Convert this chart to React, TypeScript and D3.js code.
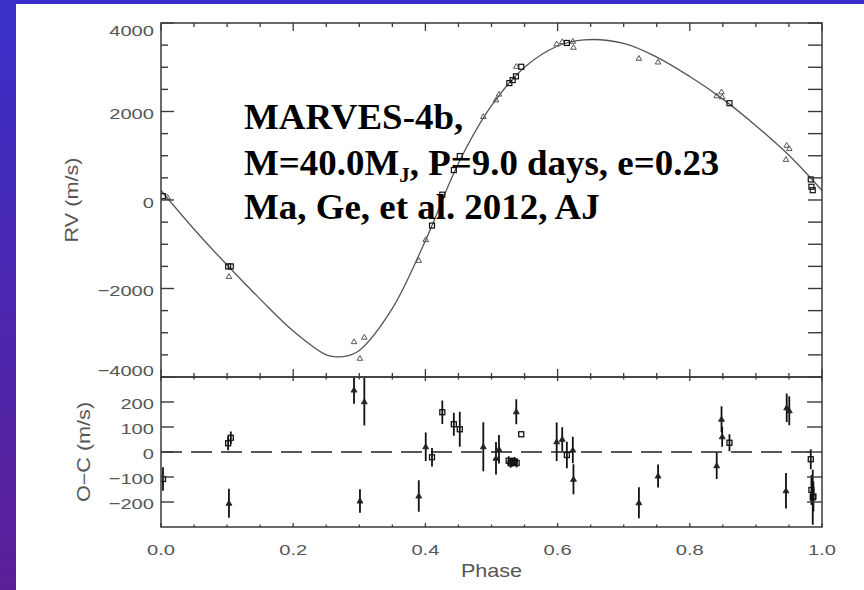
import React from "react";
import * as d3 from "d3";

// ---- model curve ----
const modelPhase = [0, 0.05, 0.1, 0.15, 0.2, 0.25, 0.266, 0.28, 0.3, 0.35, 0.4, 0.45, 0.5, 0.55, 0.6, 0.64, 0.7, 0.75, 0.8, 0.85, 0.9, 0.95, 1.0];
const modelRV = [215, -660, -1470, -2240, -2960, -3500, -3545, -3530, -3400, -2450, -920, 830, 2130, 3000, 3480, 3620, 3540, 3230, 2790, 2280, 1680, 1010, 215];

// ---- RV observations, triangles ----
const triPhase = [0.01, 0.1028, 0.292, 0.301, 0.3076, 0.39, 0.4005, 0.4876, 0.5068, 0.5113, 0.5375, 0.5986, 0.607, 0.623, 0.624, 0.723, 0.752, 0.8407, 0.848, 0.849, 0.9466, 0.9505, 0.9455];
const triRV = [60, -1728, -3202, -3578, -3102, -1365, -896, 1886, 2263, 2392, 3020, 3526, 3578, 3587, 3451, 3202, 3118, 2354, 2444, 2331, 1236, 1161, 918];

// ---- RV observations, squares ----
const sqPhase = [0.003, 0.1016, 0.1056, 0.41, 0.4256, 0.443, 0.452, 0.527, 0.532, 0.537, 0.545, 0.614, 0.86, 0.983, 0.984, 0.986];
const sqRV = [86, -1501, -1501, -578, 120, 676, 993, 2642, 2710, 2794, 3011, 3549, 2188, 465, 299, 222];

// ---- residuals, triangles ----
const resTriPhase = [0.1028, 0.292, 0.301, 0.3076, 0.39, 0.4005, 0.4876, 0.5068, 0.5113, 0.5375, 0.5986, 0.607, 0.623, 0.624, 0.723, 0.752, 0.8407, 0.848, 0.849, 0.9455, 0.9466, 0.9505];
const resTriVal = [-205, 248, -196, 201, -176, 21, 21, -25, 11, 161, 41, 51, 8, -109, -203, -96, -55, 131, 61, -155, 177, 165];
const resTriErr = [58, 55, 47, 95, 63, 57, 98, 65, 57, 50, 77, 48, 53, 60, 62, 46, 53, 52, 40, 71, 57, 58];

// ---- residuals, squares ----
const resSqPhase = [0.003, 0.1016, 0.1056, 0.41, 0.4256, 0.443, 0.452, 0.526, 0.529, 0.532, 0.535, 0.538, 0.545, 0.614, 0.86, 0.983, 0.984, 0.986, 0.987];
const resSqVal = [-108, 35, 57, -21, 159, 111, 91, -35, -45, -40, -38, -44, 71, -12, 37, -29, -152, -181, -178];
const resSqErr = [47, 28, 25, 37, 47, 46, 70, 18, 18, 18, 18, 18, 0, 53, 34, 40, 60, 110, 60];

// ---- ticks ----
const rvTicks = [-4000, -2000, 0, 2000, 4000];
const rvMinor = d3.range(-4000, 4001, 500);
const ocTicks = [-200, -100, 0, 100, 200];
const phaseTicks = [0, 0.2, 0.4, 0.6, 0.8, 1.0];
const phaseMinor = d3.range(0, 1.0001, 0.05);

const fmtRV = (v: number) => (v < 0 ? "\u2212" + Math.abs(v) : String(v));
const fmtPh = (v: number) => v.toFixed(1);

export default function App() {
  const W = 864, H = 590;
  const L = 161, R = 822, T = 23, M = 377, B = 527;
  const x = d3.scaleLinear().domain([0, 1]).range([L, R]);
  const yU = d3.scaleLinear().domain([-4000, 4000]).range([M, T]);
  const yL = d3.scaleLinear().domain([-300, 300]).range([B, M]);

  const idx = d3.range(modelPhase.length);
  const line = d3
    .line<number>()
    .x((i) => x(modelPhase[i]))
    .y((i) => yU(modelRV[i]))
    .curve(d3.curveCatmullRom.alpha(0.5));

  const axisCol = "#3a3a3a";
  const labCol = "#555";
  const tickFont = "Liberation Sans, Arial, Helvetica, sans-serif";

  const tri = (cx: number, cy: number, r: number) =>
    `M${cx},${cy - r} L${cx + r},${cy + r * 0.7} L${cx - r},${cy + r * 0.7} Z`;

  const isMajorPh = (p: number) => Math.abs(p * 5 - Math.round(p * 5)) < 1e-6;

  return (
    <svg
      width={W}
      height={H}
      style={{ position: "absolute", left: 0, top: 0, display: "block" }}
      xmlns="http://www.w3.org/2000/svg"
    >
      <defs>
        <linearGradient id="bg" x1="0" y1="0" x2="0" y2="1">
          <stop offset="0" stopColor="#3a30c9" />
          <stop offset="1" stopColor="#5c1f97" />
        </linearGradient>
        <clipPath id="clipU">
          <rect x={L} y={T} width={R - L} height={M - T} />
        </clipPath>
        <clipPath id="clipL">
          <rect x={L} y={M} width={R - L} height={B - M} />
        </clipPath>
      </defs>
      <rect x={0} y={0} width={W} height={H} fill="url(#bg)" />
      <rect x={0} y={0} width={W} height={4} fill="#3a30c9" />
      <rect x={16} y={4} width={W - 16} height={H - 4} fill="#ffffff" />

      {/* ---------- upper panel ---------- */}
      <g clipPath="url(#clipU)">
        <path d={line(idx) || ""} fill="none" stroke="#555" strokeWidth={1.3} />
        {triPhase.map((p, i) => (
          <path key={"t" + i} d={tri(x(p), yU(triRV[i]), 2.8)} fill="none" stroke="#555" strokeWidth={1} />
        ))}
        {sqPhase.map((p, i) => (
          <rect key={"s" + i} x={x(p) - 2.5} y={yU(sqRV[i]) - 2.5} width={5} height={5} fill="none" stroke="#111" strokeWidth={1.2} />
        ))}
      </g>

      {/* ---------- lower panel ---------- */}
      <line x1={L} x2={R} y1={yL(0)} y2={yL(0)} stroke="#222" strokeWidth={1.5} strokeDasharray="21 9" />
      <g clipPath="url(#clipL)">
        {resTriPhase.map((p, i) => (
          <g key={"rt" + i}>
            <line x1={x(p)} x2={x(p)} y1={yL(resTriVal[i] - resTriErr[i])} y2={yL(resTriVal[i] + resTriErr[i])} stroke="#111" strokeWidth={1.8} />
            <path d={tri(x(p), yL(resTriVal[i]), 3)} fill="#222" stroke="#222" strokeWidth={0.8} />
          </g>
        ))}
        {resSqPhase.map((p, i) => (
          <g key={"rs" + i}>
            <line x1={x(p)} x2={x(p)} y1={yL(resSqVal[i] - resSqErr[i])} y2={yL(resSqVal[i] + resSqErr[i])} stroke="#111" strokeWidth={1.8} />
            <rect x={x(p) - 2.5} y={yL(resSqVal[i]) - 2.5} width={5} height={5} fill="none" stroke="#111" strokeWidth={1.3} />
          </g>
        ))}
      </g>

      {/* ---------- frames ---------- */}
      <rect x={L} y={T} width={R - L} height={M - T} fill="none" stroke={axisCol} strokeWidth={1.5} />
      <rect x={L} y={M} width={R - L} height={B - M} fill="none" stroke={axisCol} strokeWidth={1.5} />

      {/* upper y ticks */}
      {rvMinor.map((v) => {
        const maj = v % 2000 === 0;
        const yy = yU(v);
        return (
          <g key={"uy" + v}>
            <line x1={L} x2={L + (maj ? 13 : 7)} y1={yy} y2={yy} stroke={axisCol} strokeWidth={1.4} />
            <line x1={R} x2={R - 14} y1={yy} y2={yy} stroke={axisCol} strokeWidth={1.4} />
          </g>
        );
      })}
      {/* lower y ticks */}
      {ocTicks.map((v) => (
        <g key={"ly" + v}>
          <line x1={L} x2={L + 13} y1={yL(v)} y2={yL(v)} stroke={axisCol} strokeWidth={1.4} />
          <line x1={R} x2={R - 15} y1={yL(v)} y2={yL(v)} stroke={axisCol} strokeWidth={1.4} />
        </g>
      ))}
      {/* x ticks */}
      {phaseMinor.map((p) => {
        const maj = isMajorPh(p);
        const xx = x(p);
        const lu = maj ? 8 : 4;
        const ll = maj ? 4 : 2.5;
        return (
          <g key={"x" + p.toFixed(2)}>
            <line x1={xx} x2={xx} y1={T} y2={T + lu} stroke={axisCol} strokeWidth={1.3} />
            <line x1={xx} x2={xx} y1={M} y2={M - lu} stroke={axisCol} strokeWidth={1.3} />
            <line x1={xx} x2={xx} y1={M} y2={M + ll} stroke={axisCol} strokeWidth={1.3} />
            <line x1={xx} x2={xx} y1={B} y2={B - ll} stroke={axisCol} strokeWidth={1.3} />
          </g>
        );
      })}

      {/* tick labels */}
      <g fontFamily={tickFont} fontSize={15.5} fill={labCol}>
        {rvTicks.map((v) => {
          const yc = Math.min(Math.max(yU(v) + 2, 30.5), 370);
          return (
            <text key={"ul" + v} textAnchor="end" transform={`translate(154,${yc + 5.5}) scale(1.3,1)`}>
              {fmtRV(v)}
            </text>
          );
        })}
        {ocTicks.map((v) => (
          <text key={"ll" + v} textAnchor="end" transform={`translate(154,${yL(v) + 1.5 + 5.5}) scale(1.3,1)`}>
            {fmtRV(v)}
          </text>
        ))}
        {phaseTicks.map((p) => (
          <text key={"xl" + p} textAnchor="middle" transform={`translate(${x(p)},555) scale(1.3,1)`}>
            {fmtPh(p)}
          </text>
        ))}
      </g>

      {/* axis titles */}
      <g fontFamily={tickFont} fontSize={18} fill={labCol}>
        <text textAnchor="middle" transform={`translate(${(L + R) / 2},577) scale(1.2,1)`}>
          Phase
        </text>
        <text textAnchor="middle" transform={`translate(78,${yU(0)}) rotate(-90) scale(1.2,1)`}>
          RV (m/s)
        </text>
        <text textAnchor="middle" transform={`translate(90,${yL(0)}) rotate(-90) scale(1.2,1)`}>
          O{"\u2212"}C (m/s)
        </text>
      </g>

      {/* annotation */}
      <g transform="translate(244,0) scale(1.04,1)" fontFamily="Liberation Serif, 'Times New Roman', serif" fontWeight="bold" fontSize={35.5} fill="#000">
        <text x={0} y={129}>MARVES-4b,</text>
        <text x={0} y={175}>
          M=40.0M
          <tspan fontSize={20} dy={7}>J</tspan>
          <tspan dy={-7}>, P=9.0 days, e=0.23</tspan>
        </text>
        <text x={0} y={219}>Ma, Ge, et al. 2012, AJ</text>
      </g>
    </svg>
  );
}
